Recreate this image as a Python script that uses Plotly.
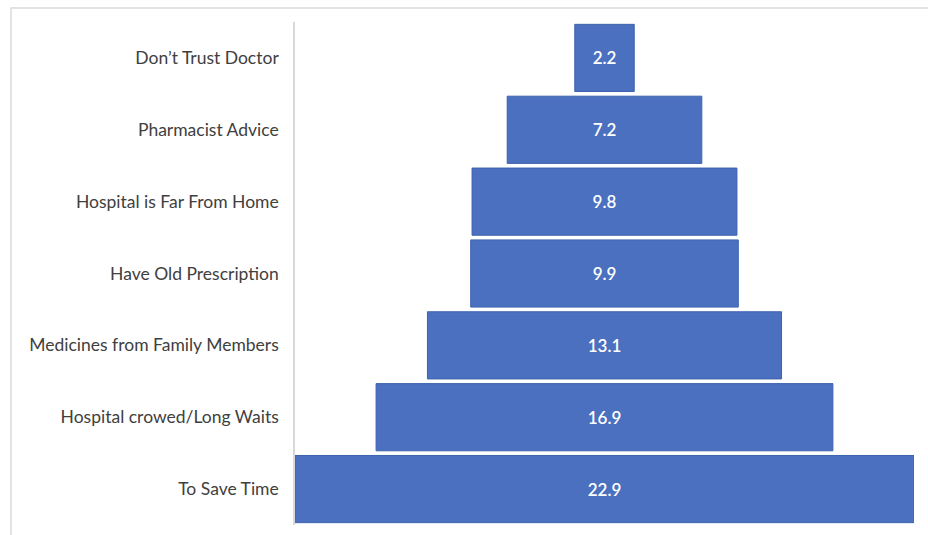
import plotly.graph_objects as go

# Reasons for self-medication (%), listed top to bottom
reasons = [
    "Don’t Trust Doctor",
    "Pharmacist Advice",
    "Hospital is Far From Home",
    "Have Old Prescription",
    "Medicines from Family Members",
    "Hospital crowed/Long Waits",
    "To Save Time",
]
percent = [2.2, 7.2, 9.8, 9.9, 13.1, 16.9, 22.9]

W, H = 928, 535
L, R, T, B = 295, 14, 22, 10

fig = go.Figure(
    go.Funnel(
        y=reasons,
        x=percent,
        textinfo="value",
        textposition="inside",
        insidetextanchor="middle",
        textfont=dict(family="Lato, Open Sans, sans-serif", size=17, color="white", weight=600),
        marker=dict(color="#4A70BF", line=dict(color="#3D63AE", width=1)),
        connector=dict(visible=False),
        hoverinfo="y+x",
    )
)

# outer chart frame, partly running off the page
pw = W - L - R
ph = H - T - B
def px_x(p):
    return (p - L) / pw
def px_y(p):
    return 1 - (p - T) / ph

fig.add_shape(
    type="rect", xref="paper", yref="paper",
    x0=px_x(11), x1=px_x(940), y0=px_y(545), y1=px_y(8),
    line=dict(color="#DADADA", width=1.5), fillcolor="rgba(0,0,0,0)", layer="below",
)

fig.update_layout(
    width=W, height=H,
    margin=dict(l=L, r=R, t=T, b=B),
    paper_bgcolor="white", plot_bgcolor="white",
    funnelgap=0.065,
    showlegend=False,
    font=dict(family="Lato, Open Sans, sans-serif", size=17.5, color="#404040"),
    xaxis=dict(visible=False, range=[-11.45, 11.45], fixedrange=True),
    yaxis=dict(
        showline=True, linecolor="#D9D9D9", linewidth=1.5,
        showgrid=False, zeroline=False,
        ticks="", ticklabelstandoff=11,
        tickfont=dict(size=17.5, color="#404040"),
    ),
)

fig.write_html("out.html")
